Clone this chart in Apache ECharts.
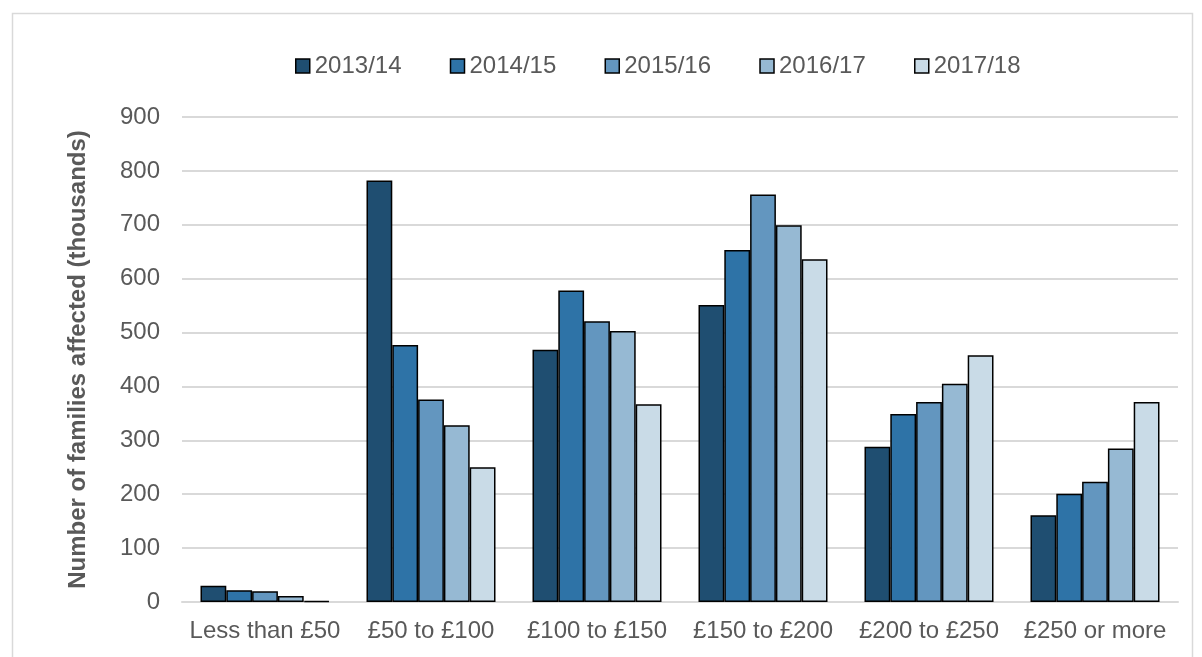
<!DOCTYPE html>
<html>
<head>
<meta charset="utf-8">
<title>Families affected</title>
<script src="https://cdn.jsdelivr.net/npm/echarts@6/dist/echarts.min.js"></script>
<style>
    html, body { margin: 0; padding: 0; background: #fff; }
    #main { width: 1202px; height: 657px; }
</style>
</head>
<body>
<div id="main"></div>
<script>
var categories = ['Less than £50', '£50 to £100', '£100 to £150', '£150 to £200', '£200 to £250', '£250 or more'];
var years = ['2013/14', '2014/15', '2015/16', '2016/17', '2017/18'];
var colors = ['#1f4e71', '#2e73a7', '#6396bf', '#96b9d3', '#c9dbe7'];

// thousands of families
var v1314 = [30, 782, 468, 551, 288, 161];
var v1415 = [22, 477, 578, 653, 349, 201];
var v1516 = [20, 376, 521, 756, 371, 223];
var v1617 = [11, 328, 503, 699, 405, 285];
var v1718 = [2, 250, 367, 636, 458, 371];
var allData = [v1314, v1415, v1516, v1617, v1718];

var yTicks = { min: 0, max: 900, interval: 100 };

var txtFont = '"Liberation Sans", Arial, sans-serif';
var txtColor = '#595959';

var series = [];
for (var i = 0; i < years.length; i++) {
    series.push({
        name: years[i],
        type: 'bar',
        barWidth: 25.8,
        barGap: '0%',
        itemStyle: { color: colors[i], borderColor: '#000', borderWidth: 1.5 },
        emphasis: { disabled: true },
        data: allData[i]
    });
}

var option = {
    animation: false,
    textStyle: { fontFamily: txtFont },
    graphic: [{
        type: 'rect',
        shape: { x: 12.5, y: 13.5, width: 1180, height: 700 },
        style: { fill: 'none', stroke: '#d9d9d9', lineWidth: 1.5 },
        silent: true,
        z: -1
    }],
    legend: {
        data: years,
        left: 290,
        top: 49,
        icon: 'rect',
        itemWidth: 14,
        itemHeight: 14,
        itemGap: 48.25,
        itemStyle: { borderColor: '#000', borderWidth: 1.5 },
        textStyle: { fontSize: 24, color: txtColor, fontFamily: txtFont }
    },
    grid: { left: 182, right: 24, top: 117, bottom: 55, containLabel: false },
    xAxis: {
        type: 'category',
        data: categories,
        axisLine: { lineStyle: { color: '#d9d9d9', width: 2 } },
        axisTick: { show: false },
        axisLabel: { fontSize: 24, color: txtColor, margin: 17, fontFamily: txtFont, interval: 0 }
    },
    yAxis: {
        type: 'value',
        min: yTicks.min,
        max: yTicks.max,
        interval: yTicks.interval,
        name: 'Number of families affected (thousands)',
        nameLocation: 'middle',
        nameGap: 92,
        nameTextStyle: { fontSize: 24, fontWeight: 'bold', color: txtColor, fontFamily: txtFont },
        axisLine: { show: false },
        axisTick: { show: false },
        axisLabel: { fontSize: 24, color: txtColor, margin: 22, fontFamily: txtFont },
        splitLine: { lineStyle: { color: '#d9d9d9', width: 2 } }
    },
    series: series
};

var myChart = echarts.init(document.getElementById('main'));
myChart.setOption(option);
</script>
</body>
</html>
